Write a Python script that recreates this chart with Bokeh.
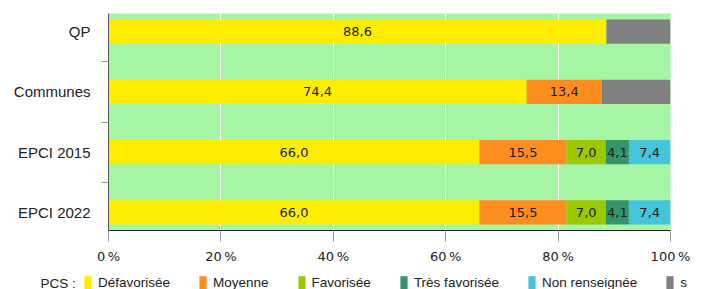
import numpy as np
from bokeh.plotting import figure
from bokeh.models import (Range1d, FixedTicker, ColumnDataSource, Legend, LegendItem, Label)
from bokeh.core.properties import value
from bokeh.embed import file_html
from bokeh.resources import INLINE

categories = ["QP", "Communes", "EPCI 2015", "EPCI 2022"]
series = ["Défavorisée", "Moyenne", "Favorisée", "Très favorisée", "Non renseignée", "s"]
defavorisee = [88.6, 74.4, 66.0, 66.0]
moyenne = [0.0, 13.4, 15.5, 15.5]
favorisee = [0.0, 0.0, 7.0, 7.0]
tres_favorisee = [0.0, 0.0, 4.1, 4.1]
non_renseignee = [0.0, 0.0, 7.4, 7.4]
secret = [11.4, 12.2, 0.0, 0.0]
x_ticks = [0, 20, 40, 60, 80, 100]
x_tick_labels = ["0\u202f%", "20\u202f%", "40\u202f%", "60\u202f%", "80\u202f%", "100\u202f%"]
legend_title = "PCS :"
colors = ["#ffed00", "#ff8c1e", "#9cc800", "#32966a", "#46c4dc", "#808080"]
show_label = [True, True, True, True, True, False]

values = [defavorisee, moyenne, favorisee, tres_favorisee, non_renseignee, secret]
ypos = list(range(len(categories)))

p = figure(width=705, height=274, output_backend="svg", toolbar_location=None,
           x_range=Range1d(0, 100), y_range=Range1d(3.3, -0.3),
           min_border_left=108, min_border_right=35, min_border_top=13, min_border_bottom=44)
p.background_fill_color = "#a6f5a5"
p.border_fill_color = "white"
p.outline_line_color = None

p.ygrid.grid_line_color = None
p.xgrid.grid_line_color = "white"
p.xgrid.grid_line_width = 1
p.xgrid.ticker = FixedTicker(ticks=x_ticks)

data = {"y": ypos}
for i, s in enumerate(series):
    data["s%d" % i] = values[i]
src = ColumnDataSource(data)
p.hbar_stack(["s%d" % i for i in range(len(series))], y="y", height=0.4,
             color=colors, line_color=None, source=src)

# segment labels
arr = np.array(values)
cum = np.cumsum(arr, axis=0)
lx, ly, lt = [], [], []
for i in range(len(series)):
    if not show_label[i]:
        continue
    for j in range(len(categories)):
        v = arr[i, j]
        if v > 0:
            lx.append(cum[i, j] - v / 2)
            ly.append(ypos[j])
            lt.append(("%.1f" % v).replace(".", ","))
p.text(x=lx, y=ly, text=lt, text_align="center", text_baseline="middle",
       text_font=value("DejaVu Sans"), text_font_size="13px", text_color="#1a1a1a")

# x axis
xa = p.xaxis[0]
xa.ticker = FixedTicker(ticks=x_ticks)
xa.major_label_overrides = {t: l for t, l in zip(x_ticks, x_tick_labels)}
xa.axis_line_color = "#222222"
xa.major_tick_line_color = "#999999"
xa.major_tick_out = 11
xa.major_tick_in = 0
xa.minor_tick_line_color = None
xa.major_label_standoff = 7
xa.major_label_text_font = "DejaVu Sans"
xa.major_label_text_font_size = "13px"
xa.major_label_text_color = "#222222"

# y axis
ya = p.yaxis[0]
ya.ticker = FixedTicker(ticks=ypos, minor_ticks=[0.5, 1.5, 2.5])
ya.major_label_overrides = {t: c for t, c in zip(ypos, categories)}
ya.axis_line_color = "#555555"
ya.major_tick_line_color = None
ya.major_tick_out = 0
ya.major_tick_in = 0
ya.minor_tick_line_color = "#999999"
ya.minor_tick_out = 7
ya.minor_tick_in = 0
ya.major_label_standoff = 11
ya.major_label_text_font = "Liberation Sans"
ya.major_label_text_font_size = "15px"
ya.major_label_text_color = "#222222"

# legend strip (separate root, not frame-aligned)
lg = figure(width=705, height=17, output_backend="svg", toolbar_location=None,
            x_range=Range1d(0, 1), y_range=Range1d(0, 1),
            x_axis_location=None, y_axis_location=None,
            min_border_left=0, min_border_right=0, min_border_top=0, min_border_bottom=0)
lg.grid.visible = False
lg.outline_line_color = None
lg.background_fill_color = "white"
lg.border_fill_color = "white"
# off-range proxies (never visible) that only carry the legend swatch styles
dummies = [lg.hbar(y=[5], left=[2], right=[3], height=0.5, color=c, line_color=None)
           for c in colors]
legend = Legend(items=[LegendItem(label=s, renderers=[r]) for s, r in zip(series, dummies)],
                orientation="horizontal", location=(83, 0), glyph_width=9, glyph_height=17,
                label_height=17, label_standoff=6, spacing=28, padding=0, margin=0,
                border_line_color=None, background_fill_alpha=0,
                label_text_font="Liberation Sans", label_text_font_size="13.5px",
                label_text_color="#222222")
lg.add_layout(legend)
lg.add_layout(Label(x=40, y=8.5, x_units="screen", y_units="screen", text=legend_title,
                    text_font="Liberation Sans", text_font_size="13.5px", text_color="#222222",
                    text_baseline="middle"))

open("out.html", "w").write(file_html([p, lg], INLINE))
